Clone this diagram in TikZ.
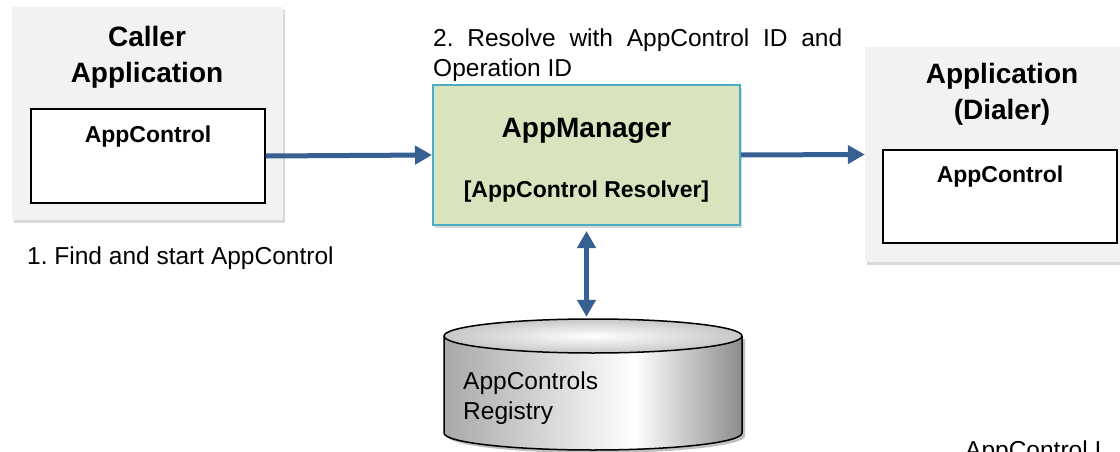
\documentclass[tikz,border=0pt]{standalone}
\usepackage{fontspec}
\setmainfont{Liberation Sans}
\usetikzlibrary{shapes,arrows.meta,shadows,positioning}
\definecolor{boxgray}{HTML}{F2F2F2}
\definecolor{mgrgreen}{HTML}{D7E4BD}
\definecolor{mgrblue}{HTML}{4BACC6}
\definecolor{flowblue}{HTML}{366092}
\pgfdeclarehorizontalshading{regshade}{100bp}{color(0bp)=(black!34); color(25bp)=(black!34); color(57bp)=(white); color(75bp)=(black!45); color(100bp)=(black!45)}
\frenchspacing

\begin{document}
\begin{tikzpicture}[x=1pt,y=-1pt,
  appbox/.style={shape=rectangle,fill=boxgray,drop shadow={shadow xshift=2pt,shadow yshift=-3pt,opacity=0.3}},
  ctlbox/.style={shape=rectangle,draw,fill=white,line width=1.5pt,minimum width=234pt},
  title/.style={font=\fontsize{28}{36}\selectfont\bfseries,align=center},
  ctltext/.style={font=\fontsize{23}{27}\selectfont\bfseries},
  note/.style={font=\fontsize{24.5}{30}\selectfont},
  flow/.style={draw=flowblue,line width=5pt,-{Triangle[length=17pt,width=18pt]}}]
  \useasboundingbox (0,0) rectangle (1120,452);
  \clip (0,0) rectangle (1120,452);

  % caller side
  \path (147.5,113.5) node (caller) [appbox,minimum width=271pt,minimum height=213pt] {}
  (147,57) node (callertitle) [title] {Caller\\Application}
  (148,156) node (callerctl) [ctlbox,minimum height=94pt] {}
  (148,137) node (callerctltext) [ctltext] {AppControl}
  (27,258) node (findlabel) [note,anchor=west,inner sep=0pt] {1. Find and start AppControl};

  % resolver
  \path (586.5,155) node (mgr) [shape=rectangle,draw=mgrblue,fill=mgrgreen,line width=2pt,
      minimum width=307pt,minimum height=140pt,
      drop shadow={shadow xshift=2pt,shadow yshift=-3pt,opacity=0.3}] {}
  (586.5,131) node (mgrtitle) [title] {AppManager}
  (586.5,192) node (mgrsub) [ctltext] {[AppControl Resolver]}
  (433,29) node (resolvelabel) [note,anchor=north west,inner sep=0pt,text width=409pt,align=justify]
      {2. Resolve with AppControl ID and\linebreak Operation ID};

  % callee side
  \path (1000,154.5) node (app) [appbox,minimum width=270pt,minimum height=215pt] {}
  (1002,94) node (apptitle) [title] {Application\\(Dialer)}
  (1000,196.5) node (appctl) [ctlbox,minimum height=93pt] {}
  (1000,177) node (appctltext) [ctltext] {AppControl}
  (965,458) node (cutlabel) [note,anchor=base west,inner sep=0pt] {AppControl I};

  % registry
  \path (593,384.5) node (reg) [minimum width=298pt,minimum height=131pt] {};
  \fill[black,opacity=0.25] (447,339) -- (447,436) arc[start angle=180,end angle=0,x radius=149,y radius=17]
    -- (745,339) -- cycle;
  \path[shading=regshade,draw,line width=1.5pt] (444,336) -- (444,433)
    arc[start angle=180,end angle=0,x radius=149,y radius=17] -- (742,336);
  \draw[line width=1.5pt,inner color=white,outer color=black!22] (593,336) ellipse [x radius=149,y radius=17];
  \path (463,398) node (regtext) [note,anchor=west,align=left,inner sep=0pt] {AppControls\\Registry};

  % connectors
  \draw[flow] (callerctl.east) -- (mgr.west);
  \draw[flow] (mgr.east) -- (app.west);
  \draw[flow,{Triangle[length=17pt,width=18pt]}-{Triangle[length=17pt,width=18pt]},shorten <=5pt,shorten >=2pt]
    (mgr.south) -- (mgr.south |- reg.north);
\end{tikzpicture}
\end{document}
